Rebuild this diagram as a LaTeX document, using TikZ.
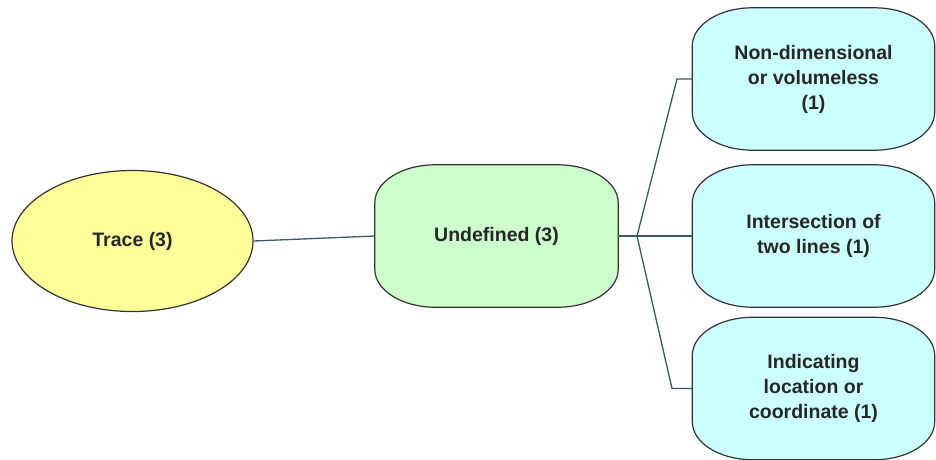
\documentclass[tikz,border=0pt]{standalone}
\usepackage{fontspec}
\setmainfont{Liberation Sans}
\usetikzlibrary{shapes.geometric,backgrounds}
\definecolor{yel}{HTML}{FFFF99}
\definecolor{grn}{HTML}{CCFFCC}
\definecolor{cyn}{HTML}{CCFFFF}
\definecolor{edge}{HTML}{333333}
\definecolor{lnk}{HTML}{3A5A5E}
% elliptical-corner box drawn around a named node
\newcommand\ellbox[2]{%
  \begin{scope}[on background layer]
  \filldraw[fill=#2, draw=edge, line width=1.2pt]
    ([yshift=-38pt]#1.north west)
      .. controls ([yshift=-17pt]#1.north west) and ([xshift=27pt]#1.north west) .. ([xshift=60pt]#1.north west)
      -- ([xshift=-60pt]#1.north east)
      .. controls ([xshift=-27pt]#1.north east) and ([yshift=-17pt]#1.north east) .. ([yshift=-38pt]#1.north east)
      -- ([yshift=38pt]#1.south east)
      .. controls ([yshift=17pt]#1.south east) and ([xshift=-27pt]#1.south east) .. ([xshift=-60pt]#1.south east)
      -- ([xshift=60pt]#1.south west)
      .. controls ([xshift=27pt]#1.south west) and ([yshift=17pt]#1.south west) .. ([yshift=38pt]#1.south west)
      -- cycle;
  \end{scope}}
\begin{document}
\begin{tikzpicture}[x=1pt,y=-1pt,
  every node/.style={font=\fontsize{19.5}{25}\selectfont\bfseries, text=black!85, align=center, inner sep=0pt},
  oval/.style={ellipse, draw=edge, line width=1.2pt, fill=yel, minimum width=241pt, minimum height=141pt},
  rbox/.style={rectangle, minimum width=242pt, minimum height=142pt},
  conn/.style={draw=lnk, line width=1.3pt}]
\useasboundingbox (0,0) rectangle (936,459);
\node[oval] (tr) at (132.5,241) {Trace (3)};
\node[rbox, minimum width=243pt] (und) at (496.5,236) {Undefined (3)};
\node[rbox] (b1) at (813.5,79) {Non-dimensional\\or volumeless\\(1)};
\node[rbox] (b2) at (813.5,236) {Intersection of\\two lines (1)};
\node[rbox] (b3) at (813.5,388.5) {Indicating\\location or\\coordinate (1)};
\ellbox{und}{grn}
\ellbox{b1}{cyn}
\ellbox{b2}{cyn}
\ellbox{b3}{cyn}
\coordinate (j) at (637,236);
\coordinate (j1) at (677,79);
\coordinate (j3) at (672,388.5);
\draw[conn] (tr.east) -- (und.west);
\draw[conn] (und.east) -- (j);
\draw[conn] (j) -- (b2.west);
\draw[conn] (j) -- (j1) -- (b1.west);
\draw[conn] (j) -- (j3) -- (b3.west);
\end{tikzpicture}
\end{document}
